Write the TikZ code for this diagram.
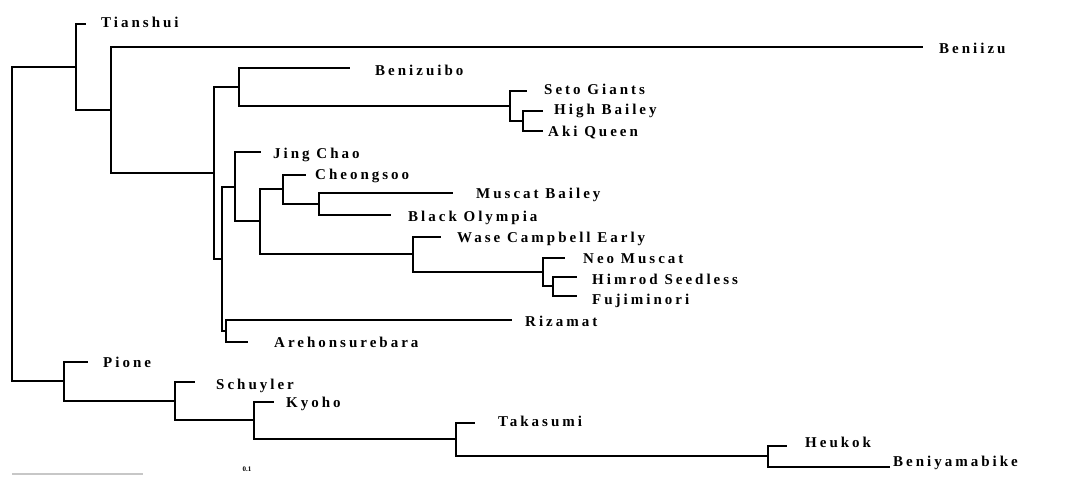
\documentclass[tikz,border=0pt]{standalone}
\usepackage{fontspec}
\setmainfont{Liberation Serif}
\newfontfamily\taxafont[LetterSpace=20]{Liberation Serif}
\begin{document}
\begin{tikzpicture}[x=1pt,y=-1pt]
	\tikzset{br/.style={line width=2.8pt},
	         taxon/.style={anchor=west, inner sep=0pt, text height=10pt, text depth=0pt,
	                       font=\taxafont\bfseries\fontsize{15}{15}\selectfont}}
	\useasboundingbox (0,0) rectangle (1067,477);
	% inner nodes
	\coordinate (r)   at (12,224);
	\coordinate (a)   at (76,67);
	\coordinate (b)   at (111,110);
	\coordinate (c)   at (214,173);
	\coordinate (m0)  at (239,87);
	\coordinate (m)   at (510,106);
	\coordinate (mn)  at (523,121);
	\coordinate (d)   at (222,259);
	\coordinate (e)   at (226,331);
	\coordinate (f)   at (235,187);
	\coordinate (g)   at (260,221);
	\coordinate (h)   at (283,189);
	\coordinate (i)   at (319,204);
	\coordinate (j)   at (413,254);
	\coordinate (k)   at (543,272);
	\coordinate (l)   at (553,286);
	\coordinate (p)   at (64,381);
	\coordinate (q)   at (175,401);
	\coordinate (s)   at (254,420);
	\coordinate (t)   at (456,439);
	\coordinate (u)   at (768,456);
	% leaf tips
	\coordinate (tian) at (86,24);
	\coordinate (beni) at (923,47);
	\coordinate (benz) at (350,68);
	\coordinate (seto) at (527,91);
	\coordinate (high) at (543,111);
	\coordinate (aki)  at (543,131);
	\coordinate (jing) at (261,152);
	\coordinate (cheo) at (306,175);
	\coordinate (musc) at (453,193);
	\coordinate (blk)  at (391,215);
	\coordinate (wase) at (441,237);
	\coordinate (neo)  at (565,258);
	\coordinate (him)  at (577,277);
	\coordinate (fuji) at (577,296);
	\coordinate (riza) at (512,320);
	\coordinate (areh) at (248,342);
	\coordinate (pion) at (88,362);
	\coordinate (schu) at (195,382);
	\coordinate (kyo)  at (274,402);
	\coordinate (taka) at (475,423);
	\coordinate (heu)  at (787,446);
	\coordinate (beny) at (890,467);
	% branches
	\draw[br] (r) |- (a);
	\draw[br] (r) |- (p);
	\draw[br] (a) |- (tian);
	\draw[br] (a) |- (b);
	\draw[br] (b) |- (beni);
	\draw[br] (b) |- (c);
	\draw[br] (c) |- (m0);
	\draw[br] (c) |- (d);
	\draw[br] (m0) |- (benz);
	\draw[br] (m0) |- (m);
	\draw[br] (m) |- (seto);
	\draw[br] (m) |- (mn);
	\draw[br] (mn) |- (high);
	\draw[br] (mn) |- (aki);
	\draw[br] (d) |- (f);
	\draw[br] (d) |- (e);
	\draw[br] (e) |- (riza);
	\draw[br] (e) |- (areh);
	\draw[br] (f) |- (jing);
	\draw[br] (f) |- (g);
	\draw[br] (g) |- (h);
	\draw[br] (g) |- (j);
	\draw[br] (h) |- (cheo);
	\draw[br] (h) |- (i);
	\draw[br] (i) |- (musc);
	\draw[br] (i) |- (blk);
	\draw[br] (j) |- (wase);
	\draw[br] (j) |- (k);
	\draw[br] (k) |- (neo);
	\draw[br] (k) |- (l);
	\draw[br] (l) |- (him);
	\draw[br] (l) |- (fuji);
	\draw[br] (p) |- (pion);
	\draw[br] (p) |- (q);
	\draw[br] (q) |- (schu);
	\draw[br] (q) |- (s);
	\draw[br] (s) |- (kyo);
	\draw[br] (s) |- (t);
	\draw[br] (t) |- (taka);
	\draw[br] (t) |- (u);
	\draw[br] (u) |- (heu);
	\draw[br] (u) |- (beny);
	% taxa
	\node[taxon] (tian-t) at (101,22)  {Tianshui};
	\node[taxon] (beni-t) at (939,48)  {Beniizu};
	\node[taxon] (benz-t) at (375,70)  {Benizuibo};
	\node[taxon] (seto-t) at (544,89)  {Seto Giants};
	\node[taxon] (high-t) at (554,109) {High Bailey};
	\node[taxon] (aki-t)  at (548,131) {Aki Queen};
	\node[taxon] (jing-t) at (273,153) {Jing Chao};
	\node[taxon] (cheo-t) at (315,174) {Cheongsoo};
	\node[taxon] (musc-t) at (476,193) {Muscat Bailey};
	\node[taxon] (blk-t)  at (408,216) {Black Olympia};
	\node[taxon] (wase-t) at (457,237) {Wase Campbell Early};
	\node[taxon] (neo-t)  at (583,258) {Neo Muscat};
	\node[taxon] (him-t)  at (592,279) {Himrod Seedless};
	\node[taxon] (fuji-t) at (592,299) {Fujiminori};
	\node[taxon] (riza-t) at (525,321) {Rizamat};
	\node[taxon] (areh-t) at (274,342) {Arehonsurebara};
	\node[taxon] (pion-t) at (103,362) {Pione};
	\node[taxon] (schu-t) at (216,384) {Schuyler};
	\node[taxon] (kyo-t)  at (286,402) {Kyoho};
	\node[taxon] (taka-t) at (498,421) {Takasumi};
	\node[taxon] (heu-t)  at (805,442) {Heukok};
	\node[taxon] (beny-t) at (893,461) {Beniyamabike};
	% scale bar
	\coordinate (sb0) at (12,474);
	\coordinate (sb1) at (143,474);
	\draw[line width=2pt, black!22] (sb0) -- (sb1);
	\node[inner sep=0pt, font=\bfseries\fontsize{7}{7}\selectfont] (sbl) at (247,469) {0.1};
\end{tikzpicture}
\end{document}
